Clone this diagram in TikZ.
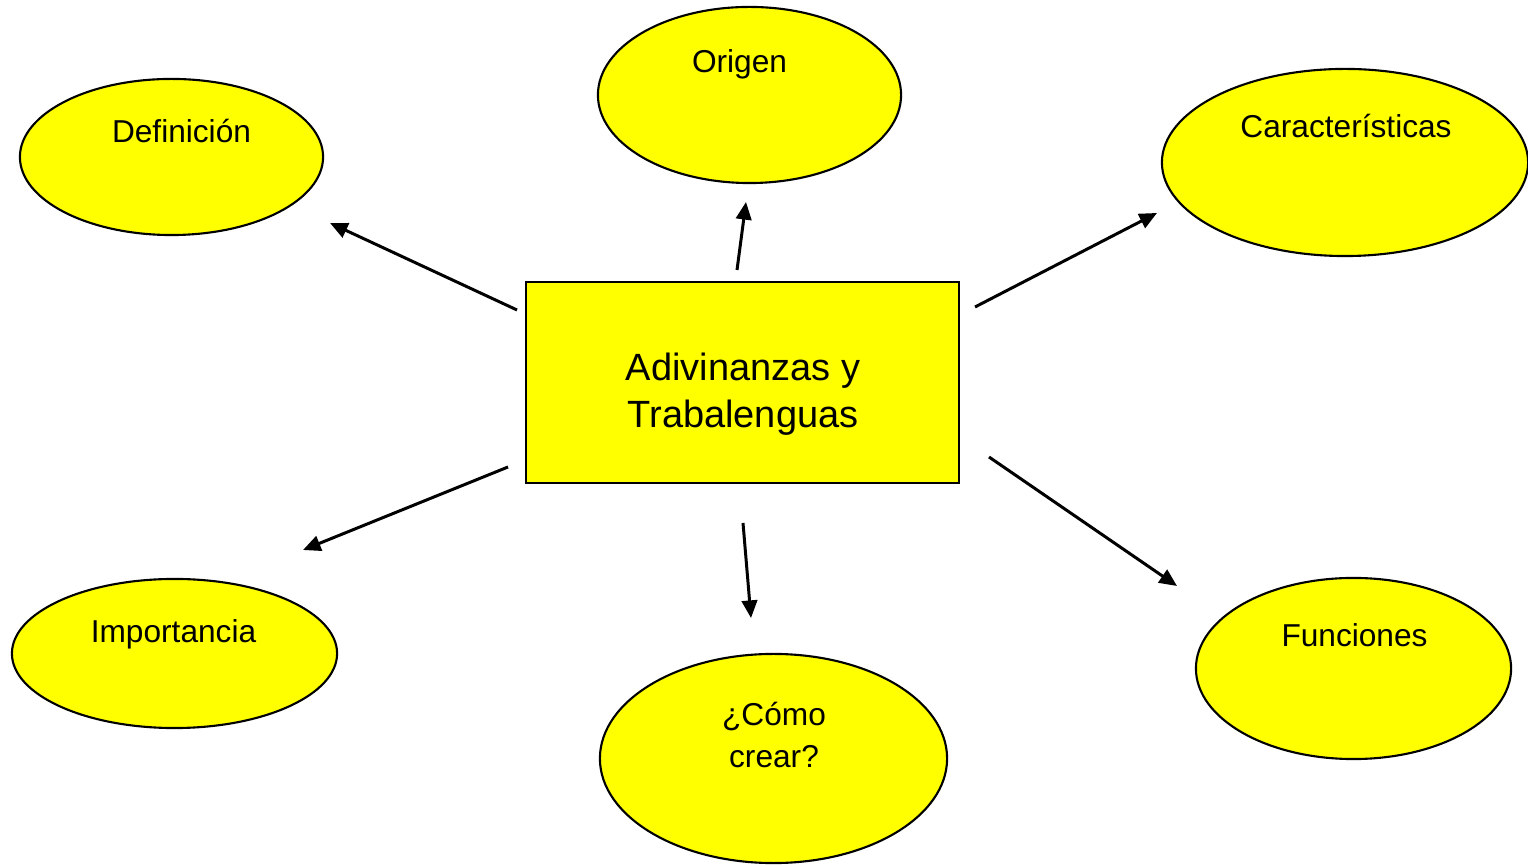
\documentclass[tikz,border=0pt]{standalone}
\usepackage{fontspec}
\setmainfont{Liberation Sans}
\usetikzlibrary{arrows.meta,shapes.geometric}
\definecolor{topicyellow}{RGB}{255,255,0}
\tikzset{
  map-topic/.style={ellipse, draw=black, fill=topicyellow, line width=0.6pt, inner sep=0pt},
  map-center/.style={rectangle, draw=black, fill=topicyellow, line width=0.6pt, inner sep=0pt},
  map-label/.style={anchor=base, align=center, inner sep=0pt, font=\fontsize{9}{12}\selectfont},
  map-title/.style={anchor=base, align=center, inner sep=0pt, font=\fontsize{10.8}{13.5}\selectfont},
  map-link/.style={-{Triangle[length=5pt,width=4.4pt]}, line width=0.85pt}
}

\begin{document}
\begin{tikzpicture}[x=0.01cm, y=-0.01cm]
  \useasboundingbox (0,0) rectangle (1528,865);

  % Central topic
  \node[map-center, minimum width=4.33cm, minimum height=2.01cm] (center) at (742.5,382.5) {};
  \node[map-title] (center-text) at (743,428) {Adivinanzas y\\Trabalenguas};

  % Surrounding topics (top row)
  \node[map-topic, minimum width=3.03cm, minimum height=1.56cm] (def) at (171.5,157) {};
  \node[map-label] (def-text) at (181.5,142.5) {Definición};

  \node[map-topic, minimum width=3.03cm, minimum height=1.76cm] (orig) at (749.5,95) {};
  \node[map-label] (orig-text) at (739.5,73) {Origen};

  \node[map-topic, minimum width=3.66cm, minimum height=1.87cm] (car) at (1345,162.5) {};
  \node[map-label] (car-text) at (1346,138) {Características};

  % Surrounding topics (bottom row)
  \node[map-topic, minimum width=3.25cm, minimum height=1.49cm] (imp) at (174.5,653.5) {};
  \node[map-label] (imp-text) at (173.5,643) {Importancia};

  \node[map-topic, minimum width=3.47cm, minimum height=2.09cm] (como) at (773.5,758.5) {};
  \node[map-label] (como-text) at (774,768) {¿Cómo\\crear?};

  \node[map-topic, minimum width=3.15cm, minimum height=1.81cm] (fun) at (1353.5,668.5) {};
  \node[map-label] (fun-text) at (1354.5,647) {Funciones};

  % Arrow ends (arrows stop short of the shapes)
  \coordinate (def-from) at (517,310);   \coordinate (def-to) at (330,223);
  \coordinate (orig-from) at (737,270);  \coordinate (orig-to) at (746,202);
  \coordinate (car-from) at (975,307);   \coordinate (car-to) at (1157,213);
  \coordinate (imp-from) at (508,467);   \coordinate (imp-to) at (303,550);
  \coordinate (como-from) at (743,523);  \coordinate (como-to) at (751,618);
  \coordinate (fun-from) at (989,457);   \coordinate (fun-to) at (1177,586);

  % Arrows
  \draw[map-link] (def-from) -- (def-to);
  \draw[map-link] (orig-from) -- (orig-to);
  \draw[map-link] (car-from) -- (car-to);
  \draw[map-link] (imp-from) -- (imp-to);
  \draw[map-link] (como-from) -- (como-to);
  \draw[map-link] (fun-from) -- (fun-to);
\end{tikzpicture}
\end{document}
